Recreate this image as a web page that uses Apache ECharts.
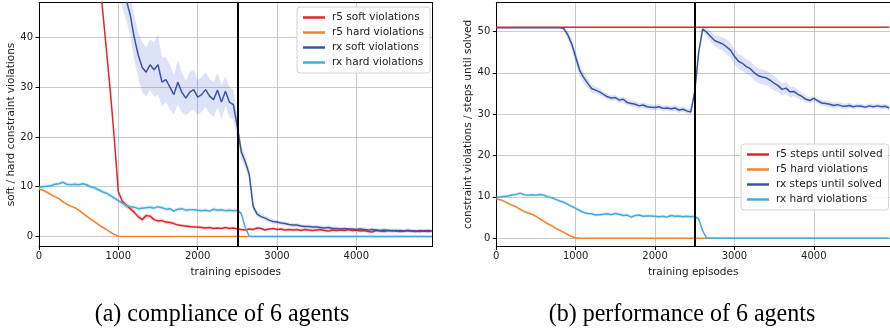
<!DOCTYPE html>
<html><head><meta charset="utf-8">
<script src="https://cdn.jsdelivr.net/npm/echarts@6/dist/echarts.min.js"></script>
<style>html,body{margin:0;padding:0;background:#fff}#c{width:890px;height:331px}</style>
</head><body><div id="c"></div>
<script>
// ---- data ----
const episodes = [];
for (let e = 0; e <= 4950; e += 50) episodes.push(e);
const xTicks = [0, 1000, 2000, 3000, 4000];
const leftYTicks = [0, 10, 20, 30, 40];
const rightYTicks = [0, 10, 20, 30, 40, 50];
const switchEpisode = 2500;

const r5Soft = [
  null,null,null,null,null,null,null,null,null,null,
  null,null,null,null,null,54.2,45.8,37.4,29.0,19.5,
  9.0,7.1,6.3,5.6,4.9,4.0,3.4,4.2,4.1,3.4,
  3.1,3.2,2.9,2.8,2.6,2.3,2.2,2.1,2.0,1.9,
  1.9,1.8,1.7,1.8,1.6,1.7,1.6,1.8,1.6,1.7,
  1.5,1.4,1.3,1.5,1.4,1.7,1.6,1.3,1.5,1.6,
  1.4,1.5,1.3,1.4,1.3,1.4,1.2,1.4,1.3,1.2,
  1.3,1.4,1.2,1.1,1.3,1.2,1.3,1.2,1.4,1.2,
  1.3,1.1,1.2,1.0,0.9,1.2,1.1,1.0,1.2,1.1,
  1.2,1.0,1.1,1.2,1.1,1.0,1.2,1.1,1.2,1.1];
const r5SoftSpread = [
  0.3,0.3,0.3,0.3,0.3,0.3,0.3,0.3,0.3,0.3,
  0.3,0.3,0.3,0.3,0.3,0.3,0.3,0.3,0.4,0.5,
  0.6,0.6,0.6,0.5,0.5,0.5,0.5,0.6,0.5,0.4,
  0.4,0.4,0.4,0.35,0.35,0.3,0.3,0.3,0.3,0.3,
  0.3,0.3,0.3,0.3,0.3,0.3,0.3,0.3,0.3,0.3,
  0.3,0.3,0.3,0.3,0.3,0.3,0.3,0.3,0.3,0.3,
  0.3,0.3,0.3,0.3,0.3,0.3,0.3,0.3,0.3,0.3,
  0.3,0.3,0.3,0.3,0.3,0.3,0.3,0.3,0.3,0.3,
  0.3,0.3,0.3,0.3,0.3,0.3,0.3,0.3,0.3,0.3,
  0.3,0.3,0.3,0.3,0.3,0.3,0.3,0.3,0.3,0.3];

const r5Hard = [
  9.5,9.3,8.9,8.4,8.0,7.6,7.0,6.5,6.1,5.8,
  5.3,4.7,4.1,3.5,3.0,2.4,1.9,1.4,0.9,0.4,
  0.05,0.03,0.02,0.02,0.02,0.02,0.02,0.02,0.02,0.02,
  0.02,0.02,0.02,0.02,0.02,0.02,0.02,0.02,0.02,0.02,
  0.02,0.02,0.02,0.02,0.02,0.02,0.02,0.02,0.02,0.02,
  0.02,0.02,0.02,0.02,0.02,0.02,0.02,0.02,0.02,0.02,
  0.02,0.02,0.02,0.02,0.02,0.02,0.02,0.02,0.02,0.02,
  0.02,0.02,0.02,0.02,0.02,0.02,0.02,0.02,0.02,0.02,
  0.02,0.02,0.02,0.02,0.02,0.02,0.02,0.02,0.02,0.02,
  0.02,0.02,0.02,0.02,0.02,0.02,0.02,0.02,0.02,0.02];
const r5HardSpread = [
  0.25,0.25,0.25,0.25,0.25,0.25,0.25,0.25,0.25,0.25,
  0.25,0.25,0.25,0.25,0.25,0.25,0.25,0.2,0.2,0.15,
  0.05,0.02,0.02,0.02,0.02,0.02,0.02,0.02,0.02,0.02,
  0.02,0.02,0.02,0.02,0.02,0.02,0.02,0.02,0.02,0.02,
  0.02,0.02,0.02,0.02,0.02,0.02,0.02,0.02,0.02,0.02,
  0.02,0.02,0.02,0.02,0.02,0.02,0.02,0.02,0.02,0.02,
  0.02,0.02,0.02,0.02,0.02,0.02,0.02,0.02,0.02,0.02,
  0.02,0.02,0.02,0.02,0.02,0.02,0.02,0.02,0.02,0.02,
  0.02,0.02,0.02,0.02,0.02,0.02,0.02,0.02,0.02,0.02,
  0.02,0.02,0.02,0.02,0.02,0.02,0.02,0.02,0.02,0.02];

const rxSoft = [
  null,null,null,null,null,null,null,null,null,null,
  null,null,null,null,null,null,null,null,null,null,
  52.0,50.0,47.5,44.5,40.0,36.5,34.0,33.0,34.5,33.5,
  34.5,31.0,31.5,30.0,28.5,31.0,29.0,27.8,29.0,29.5,
  28.0,28.5,29.5,28.2,27.5,29.4,27.0,29.2,27.0,26.5,
  22.0,17.0,15.0,12.5,6.0,4.5,4.0,3.7,3.3,3.0,
  2.9,2.7,2.6,2.4,2.3,2.3,2.1,2.0,2.0,1.9,
  1.9,1.8,1.7,1.8,1.6,1.6,1.5,1.6,1.5,1.5,
  1.4,1.5,1.4,1.3,1.4,1.3,1.2,1.3,1.2,1.2,
  1.1,1.2,1.1,1.2,1.1,1.1,1.0,1.1,1.0,1.1];
const rxSoftSpread = [
  4,4,4,4,4,4,4,4,4,4,
  4,4,4,4,4,4,4,4,4,4,
  4,4,4,4,4.5,4.5,5,5,5,5.5,
  6,5,4.5,4.5,4,4.5,4,3.5,4,4,
  3.5,3.5,3.5,3.5,3.5,3.5,3.5,3,3,3,
  2.5,1.5,1.2,1.0,0.8,0.7,0.6,0.5,0.5,0.5,
  0.4,0.4,0.4,0.4,0.4,0.4,0.4,0.4,0.4,0.4,
  0.4,0.4,0.4,0.4,0.4,0.4,0.4,0.4,0.4,0.4,
  0.4,0.4,0.4,0.4,0.4,0.4,0.4,0.4,0.4,0.4,
  0.4,0.4,0.4,0.4,0.4,0.4,0.4,0.4,0.4,0.4];

const rxHard = [
  9.9,10.0,10.1,10.2,10.5,10.6,10.9,10.5,10.4,10.5,
  10.4,10.6,10.4,10.0,9.8,9.4,9.0,8.7,8.2,7.7,
  7.2,6.7,6.2,6.0,5.9,5.6,5.7,5.8,5.9,5.7,
  6.0,5.8,5.5,5.6,5.1,5.5,5.6,5.3,5.4,5.4,
  5.3,5.2,5.3,5.1,5.5,5.3,5.4,5.2,5.3,5.2,
  5.3,4.6,1.8,0.05,0.02,0.02,0.02,0.02,0.02,0.02,
  0.02,0.02,0.02,0.02,0.02,0.02,0.02,0.02,0.02,0.02,
  0.02,0.02,0.02,0.02,0.02,0.02,0.02,0.02,0.02,0.02,
  0.02,0.02,0.02,0.02,0.02,0.02,0.02,0.02,0.02,0.02,
  0.02,0.02,0.02,0.02,0.02,0.02,0.02,0.02,0.02,0.02];
const rxHardSpread = [
  0.4,0.4,0.4,0.4,0.4,0.4,0.4,0.4,0.4,0.4,
  0.4,0.4,0.4,0.4,0.4,0.4,0.4,0.4,0.4,0.4,
  0.4,0.4,0.4,0.4,0.4,0.4,0.4,0.4,0.4,0.4,
  0.4,0.4,0.4,0.4,0.4,0.4,0.4,0.4,0.4,0.4,
  0.4,0.4,0.4,0.4,0.4,0.4,0.4,0.4,0.4,0.4,
  0.4,0.4,0.3,0.05,0.02,0.02,0.02,0.02,0.02,0.02,
  0.02,0.02,0.02,0.02,0.02,0.02,0.02,0.02,0.02,0.02,
  0.02,0.02,0.02,0.02,0.02,0.02,0.02,0.02,0.02,0.02,
  0.02,0.02,0.02,0.02,0.02,0.02,0.02,0.02,0.02,0.02,
  0.02,0.02,0.02,0.02,0.02,0.02,0.02,0.02,0.02,0.02];

const r5StepsEpisodes = [0, 4950];
const r5Steps = [51.0, 51.0];

const rxSteps = [
  50.9,50.9,50.9,50.9,50.9,50.9,50.9,50.9,50.9,50.9,
  50.9,50.9,50.9,50.9,50.9,50.9,50.9,50.7,49.2,47.0,
  43.8,40.6,38.9,37.5,36.2,35.8,35.4,34.8,34.2,33.9,
  34.0,33.4,33.6,32.8,32.6,32.4,32.0,32.2,31.8,31.7,
  31.6,31.8,31.4,31.5,31.3,31.5,31.0,31.2,30.8,30.5,
  35.5,45.0,50.6,49.8,48.8,47.8,47.4,47.0,46.3,45.5,
  44.0,42.8,42.3,41.5,41.0,40.0,39.3,39.0,38.8,38.2,
  37.5,36.9,36.0,36.3,35.4,35.5,34.8,34.3,33.6,33.3,
  33.8,33.2,32.7,32.6,32.4,32.1,32.3,32.0,31.9,32.1,
  31.8,32.0,31.9,31.7,32.0,31.8,32.0,31.8,31.9,31.5];
const rxStepsSpread = [
  0.1,0.1,0.1,0.1,0.1,0.1,0.1,0.1,0.1,0.1,
  0.1,0.1,0.1,0.1,0.1,0.1,0.1,0.5,1.0,1.3,
  1.5,1.5,1.3,1.2,1.0,0.8,0.8,0.7,0.7,0.7,
  0.7,0.7,0.7,0.7,0.7,0.7,0.7,0.7,0.7,0.7,
  0.7,0.7,0.7,0.7,0.7,0.7,0.7,0.7,0.7,0.7,
  0.8,0.8,0.5,1.0,1.3,1.4,1.5,1.6,1.8,1.8,
  1.8,1.8,1.8,1.8,1.8,1.8,1.8,1.8,1.8,1.8,
  1.8,1.6,1.5,1.4,1.3,1.2,1.0,0.9,0.8,0.8,
  0.7,0.7,0.7,0.7,0.7,0.7,0.7,0.7,0.7,0.7,
  0.6,0.6,0.6,0.6,0.6,0.6,0.6,0.6,0.6,0.6];

// ---- styling ----
const C = { red: '#e3232b', orange: '#f7822d', blue: '#3a54a6', cyan: '#45abdc' };
const FONT = 'DejaVu Sans';

function pairs(xs, ys) {
  const out = [];
  xs.forEach((x, i) => { if (ys[i] != null) out.push([x, ys[i]]); });
  return out;
}
function line(name, xs, ys, color, g, extra) {
  return Object.assign({
    type: 'line', name, xAxisIndex: g * 2, yAxisIndex: g * 2,
    data: pairs(xs, ys), showSymbol: false, symbol: 'none', color,
    lineStyle: { color, width: 1.5 }, z: 3, animation: false, silent: true
  }, extra || {});
}
function band(xs, ys, sp, fill, g) {
  return {
    type: 'custom', xAxisIndex: g * 2, yAxisIndex: g * 2, silent: true, z: 1, animation: false,
    data: [[xs[0], 0]],
    renderItem(params, api) {
      const cs = params.coordSys;
      const children = [];
      let run = [];
      const flush = () => {
        if (run.length > 1) {
          const up = run.map(i => api.coord([xs[i], ys[i] + sp[i]]));
          const lo = run.map(i => api.coord([xs[i], ys[i] - sp[i]])).reverse();
          children.push({ type: 'polygon', shape: { points: up.concat(lo) }, style: { fill } });
        }
        run = [];
      };
      for (let i = 0; i < xs.length; i++) { if (ys[i] == null) flush(); else run.push(i); }
      flush();
      return { type: 'group', children,
        clipPath: { type: 'rect', shape: { x: cs.x, y: cs.y, width: cs.width, height: cs.height } } };
    }
  };
}
const vline = {
  silent: true, symbol: 'none', label: { show: false },
  lineStyle: { color: '#000', width: 2, type: 'solid' },
  data: [{ xAxis: switchEpisode }]
};
const plain = v => String(v);

function xAxes(g, name) {
  return [{
    type: 'value', gridIndex: g, min: 0, max: 4960, position: 'bottom',
    name, nameLocation: 'middle', nameGap: 19,
    nameTextStyle: { fontFamily: FONT, fontSize: 10.5, color: '#222' },
    axisLine: { show: true, onZero: false, lineStyle: { color: '#000', width: 1 } },
    axisTick: { show: true, length: 3.5, lineStyle: { color: '#000' }, customValues: xTicks },
    axisLabel: { fontFamily: FONT, fontSize: 10, color: '#222', margin: 5, customValues: xTicks, formatter: plain },
    splitLine: { show: true, lineStyle: { color: '#bdbdbd', width: 0.8 } }
  }, {
    type: 'value', gridIndex: g, min: 0, max: 4960, position: 'top',
    axisLine: { show: true, onZero: false, lineStyle: { color: '#000', width: 1 } },
    axisTick: { show: false }, axisLabel: { show: false }, splitLine: { show: false }
  }];
}
function yAxes(g, min, max, ticks, name, gap) {
  return [{
    type: 'value', gridIndex: g, min, max, position: 'left',
    name, nameLocation: 'middle', nameGap: gap,
    nameTextStyle: { fontFamily: FONT, fontSize: 10.5, color: '#222' },
    axisLine: { show: true, onZero: false, lineStyle: { color: '#000', width: 1 } },
    axisTick: { show: true, length: 3.5, lineStyle: { color: '#000' }, customValues: ticks },
    axisLabel: { fontFamily: FONT, fontSize: 10, color: '#222', margin: 6, customValues: ticks, formatter: plain },
    splitLine: { show: true, lineStyle: { color: '#bdbdbd', width: 0.8 } }
  }, {
    type: 'value', gridIndex: g, min, max, position: 'right',
    axisLine: { show: true, onZero: false, lineStyle: { color: '#000', width: 1 } },
    axisTick: { show: false }, axisLabel: { show: false }, splitLine: { show: false }
  }];
}
function legend(names, left, top) {
  return {
    data: names, left, top, orient: 'vertical', icon: 'rect',
    itemWidth: 22, itemHeight: 2.5, itemGap: 4, padding: [5, 6],
    backgroundColor: 'rgba(255,255,255,0.85)', borderColor: '#d4d4d4', borderWidth: 1, borderRadius: 3,
    textStyle: { fontFamily: FONT, fontSize: 10.5, color: '#222', padding: [0, 0, 0, 2] },
    selectedMode: false
  };
}

const option = {
  animation: false,
  backgroundColor: '#fff',
  grid: [
    { left: 39, top: 2.5, width: 393.5, height: 244 },
    { left: 496.3, top: 2.5, width: 395.6, height: 244 }
  ],
  xAxis: [...xAxes(0, 'training episodes'), ...xAxes(1, 'training episodes')],
  yAxis: [...yAxes(0, -2, 47, leftYTicks, 'soft / hard constraint violations', 22),
          ...yAxes(1, -2, 57, rightYTicks, 'constraint violations / steps until solved', 23)],
  legend: [
    legend(['r5 soft violations', 'r5 hard violations', 'rx soft violations', 'rx hard violations'], 297, 7),
    legend(['r5 steps until solved', 'r5 hard violations', 'rx steps until solved', 'rx hard violations'], 741, 144)
  ],
  series: [
    band(episodes, r5Soft, r5SoftSpread, 'rgba(227,35,43,0.18)', 0),
    band(episodes, r5Hard, r5HardSpread, 'rgba(247,130,45,0.2)', 0),
    band(episodes, rxSoft, rxSoftSpread, 'rgba(58,84,200,0.17)', 0),
    band(episodes, rxHard, rxHardSpread, 'rgba(69,171,220,0.2)', 0),
    line('r5 soft violations', episodes, r5Soft, C.red, 0),
    line('r5 hard violations', episodes, r5Hard, C.orange, 0),
    line('rx soft violations', episodes, rxSoft, C.blue, 0),
    line('rx hard violations', episodes, rxHard, C.cyan, 0, { markLine: vline }),

    band(episodes, r5Hard, r5HardSpread, 'rgba(247,130,45,0.2)', 1),
    band(episodes, rxSteps, rxStepsSpread, 'rgba(58,84,200,0.17)', 1),
    band(episodes, rxHard, rxHardSpread, 'rgba(69,171,220,0.2)', 1),
    line('r5 hard violations', episodes, r5Hard, C.orange, 1),
    line('rx steps until solved', episodes, rxSteps, C.blue, 1),
    line('rx hard violations', episodes, rxHard, C.cyan, 1, { markLine: vline }),
    line('r5 steps until solved', r5StepsEpisodes, r5Steps, C.red, 1)
  ],
  graphic: [
    { type: 'text', x: 222, y: 314, silent: true, scaleY: 1.08,
      style: { text: '(a) compliance of 6 agents', font: '24px "Liberation Serif"', fill: '#000', align: 'center', verticalAlign: 'middle' } },
    { type: 'text', x: 682, y: 314, silent: true, scaleY: 1.08,
      style: { text: '(b) performance of 6 agents', font: '24px "Liberation Serif"', fill: '#000', align: 'center', verticalAlign: 'middle' } }
  ]
};
const chart = echarts.init(document.getElementById('c'), null, { renderer: 'canvas' });
chart.setOption(option);
</script></body></html>
